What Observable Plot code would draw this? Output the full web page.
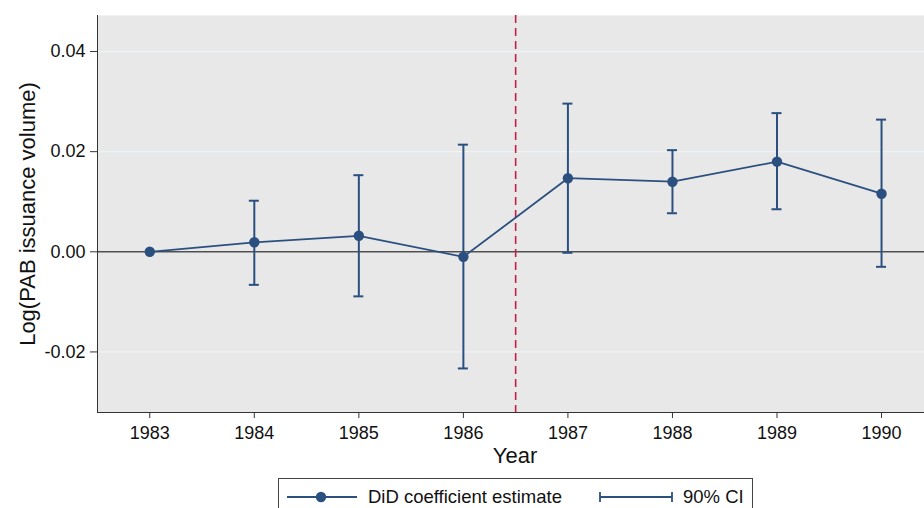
<!DOCTYPE html>
<html>
<head>
<meta charset="utf-8">
<script src="https://cdn.jsdelivr.net/npm/d3@7"></script>
<script src="https://cdn.jsdelivr.net/npm/@observablehq/plot@0.6"></script>
<style>
  html, body { margin: 0; padding: 0; background: white; width: 924px; height: 508px; overflow: hidden; position: relative; }
  #legend { position: absolute; left: 278px; top: 478px; width: 475px; height: 44px; border: 1px solid #444; box-sizing: border-box;
    font-family: "Liberation Sans", Arial, sans-serif; color: #111; }
  #legend svg { position: absolute; left: 0; top: 0; }
</style>
</head>
<body>
<div id="chart"></div>
<div id="legend"></div>
<script>
const years = [1983, 1984, 1985, 1986, 1987, 1988, 1989, 1990];
const estimate = [0, 0.0019, 0.0032, -0.0010, 0.0147, 0.0140, 0.0180, 0.0116];
const ciLow = [null, -0.0066, -0.0089, -0.0233, -0.0002, 0.0077, 0.0085, -0.0030];
const ciHigh = [null, 0.0102, 0.0153, 0.0214, 0.0296, 0.0203, 0.0277, 0.0264];
const yTicks = [-0.02, 0, 0.02, 0.04];
const treatmentYear = 1986.5;
const legendLabels = ["DiD coefficient estimate", "90% CI"];

const navy = "#2b5080";
const data = years.map((y, i) => ({year: y, est: estimate[i], lo: ciLow[i], hi: ciHigh[i]}));
const ci = data.filter(d => d.lo != null);
const xDomain = [1982.5, 1990.411];
const yDomain = [-0.0321, 0.0472];
const capHalf = 0.048;

const chart = Plot.plot({
  width: 924, height: 478,
  marginLeft: 97, marginRight: 0, marginTop: 15, marginBottom: 66,
  style: {fontFamily: "Liberation Sans, Arial, sans-serif", fontSize: "18px", background: "white", color: "#111"},
  x: {domain: xDomain, label: null},
  y: {domain: yDomain, label: null},
  marks: [
    Plot.frame({fill: "#e8e8e8", stroke: null}),
    Plot.gridY(yTicks.filter(t => t !== 0), {stroke: "#eef3f6", strokeOpacity: 1, strokeWidth: 1.2}),
    Plot.ruleY([0], {stroke: "#505050", strokeWidth: 1.5}),
    Plot.ruleX([treatmentYear], {stroke: "#c41e4a", strokeWidth: 1.6, strokeDasharray: "8,5"}),
    Plot.ruleX(ci, {x: "year", y1: "lo", y2: "hi", stroke: navy, strokeWidth: 2}),
    Plot.ruleY(ci, {y: "hi", x1: d => d.year - capHalf, x2: d => d.year + capHalf, stroke: navy, strokeWidth: 2}),
    Plot.ruleY(ci, {y: "lo", x1: d => d.year - capHalf, x2: d => d.year + capHalf, stroke: navy, strokeWidth: 2}),
    Plot.line(data, {x: "year", y: "est", stroke: navy, strokeWidth: 1.8}),
    Plot.dot(data, {x: "year", y: "est", r: 5.2, fill: navy, stroke: null}),
    Plot.ruleX([xDomain[0]], {stroke: "#333", strokeWidth: 1}),
    Plot.ruleY([yDomain[0]], {stroke: "#333", strokeWidth: 1}),
    Plot.axisX({ticks: years, tickFormat: d => String(d), tickSize: 6, tickPadding: 8, fontSize: 18, label: null, stroke: "#333"}),
    Plot.axisY({ticks: yTicks, tickFormat: d => d.toFixed(2), tickSize: 7, tickPadding: 5, fontSize: 18, label: null, stroke: "#333"}),
    Plot.text(["Year"], {frameAnchor: "bottom", lineAnchor: "middle", textAnchor: "middle", dy: 43, dx: 4, fontSize: 22, fill: "#111"}),
    Plot.text(["Log(PAB issuance volume)"], {frameAnchor: "left", lineAnchor: "middle", textAnchor: "middle", rotate: -90, dx: -70, fontSize: 22, fill: "#111"})
  ]
});
document.getElementById("chart").appendChild(chart);

// legend
const lg = d3.select("#legend").append("svg").attr("width", 475).attr("height", 44);
const cy = 18;
lg.append("line").attr("x1", 8).attr("x2", 78).attr("y1", cy).attr("y2", cy).attr("stroke", navy).attr("stroke-width", 1.8);
lg.append("circle").attr("cx", 42).attr("cy", cy).attr("r", 5.2).attr("fill", navy);
lg.append("text").attr("x", 89).attr("y", cy).attr("dy", "0.35em").attr("font-size", 18.5).attr("fill", "#111").text(legendLabels[0]);
lg.append("line").attr("x1", 321).attr("x2", 393).attr("y1", cy).attr("y2", cy).attr("stroke", navy).attr("stroke-width", 1.8);
lg.append("line").attr("x1", 321).attr("x2", 321).attr("y1", cy - 5).attr("y2", cy + 5).attr("stroke", navy).attr("stroke-width", 1.8);
lg.append("line").attr("x1", 393).attr("x2", 393).attr("y1", cy - 5).attr("y2", cy + 5).attr("stroke", navy).attr("stroke-width", 1.8);
lg.append("text").attr("x", 404).attr("y", cy).attr("dy", "0.35em").attr("font-size", 18.5).attr("fill", "#111").text(legendLabels[1]);
</script>
</body>
</html>
